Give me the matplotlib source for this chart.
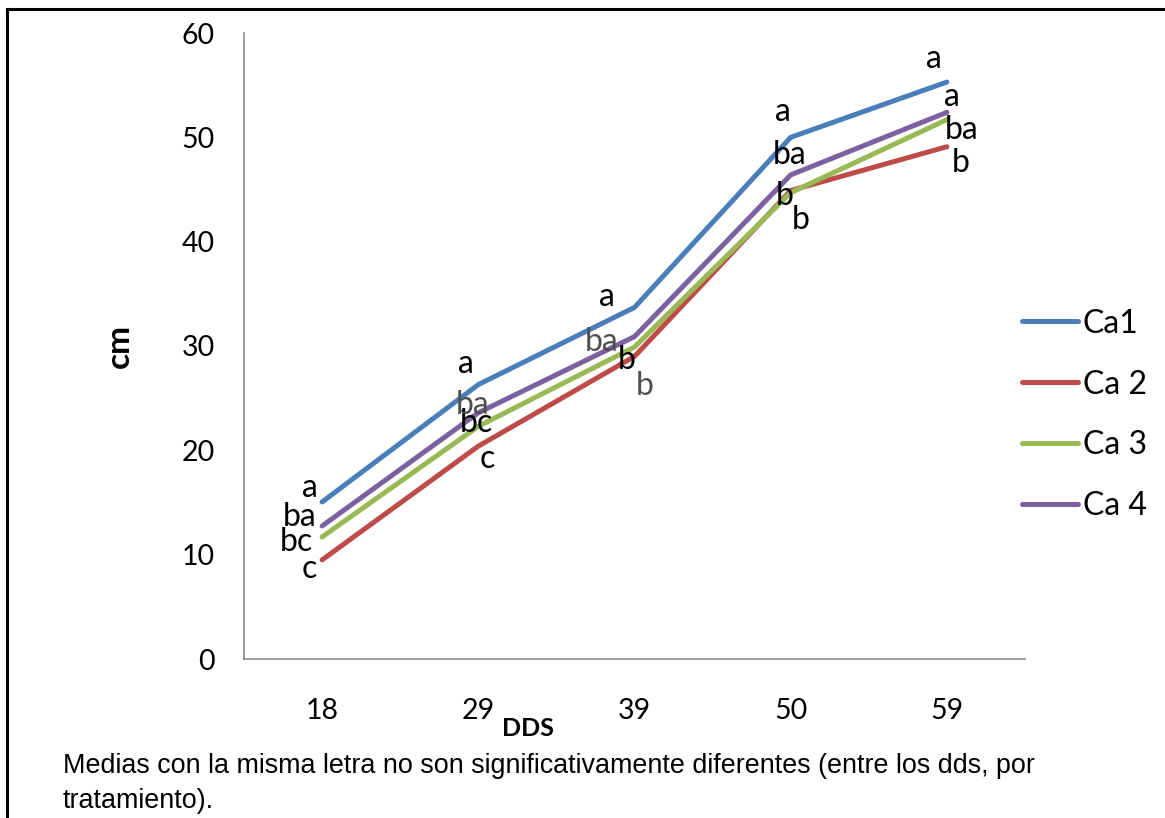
import matplotlib.pyplot as plt
from matplotlib.lines import Line2D

# days after sowing (categories) and mean height per treatment (cm)
dds = ["18", "29", "39", "50", "59"]
ca1 = [15.05, 26.3, 33.7, 50.0, 55.3]
ca2 = [9.5, 20.4, 29.0, 44.9, 49.1]
ca3 = [11.7, 22.3, 29.9, 44.7, 51.7]
ca4 = [12.75, 23.6, 30.9, 46.4, 52.4]
names = ["Ca1", "Ca 2", "Ca 3", "Ca 4"]

# significance letters per point
let1 = ["a", "a", "a", "a", "a"]
let2 = ["c", "c", "b", "b", "b"]
let3 = ["bc", "bc", "b", "b", "ba"]
let4 = ["ba", "ba", "ba", "ba", "a"]

note_1 = "Medias con la misma letra no son significativamente diferentes (entre los dds, por"
note_2 = "tratamiento)."

colors = ["#4A7EBB", "#BE4B48", "#98B954", "#7D60A0"]
# label offsets in pixels (dx, dy) from each point
offs = [
    [(-12, 14), (-12, 21), (-28, 10), (-8, 25), (-13, 23)],
    [(-13, -9), (9, -13), (10, -30), (10, -29), (14, -16)],
    [(-26, -5), (-2, 3), (-8, -13), (-6, -3), (15, -10)],
    [(-22, 9), (-6, 8), (-33, -5), (-1, 20), (5, 15)],
]
grey = {(1, 2), (3, 1), (3, 2)}

plt.rcParams['font.family'] = ['Lato', 'DejaVu Sans']

fig = plt.figure(figsize=(11.65, 8.18), dpi=100)
ax = fig.add_axes([244 / 1165, 1 - 659 / 818, 781 / 1165, 626 / 818])

x = list(range(len(dds)))
series = [ca1, ca2, ca3, ca4]
letters = [let1, let2, let3, let4]
for i, (vals, name) in enumerate(zip(series, names)):
    ax.plot(x, vals, color=colors[i], lw=3.6, solid_capstyle='round', label=name)

for i, (vals, labs) in enumerate(zip(series, letters)):
    for j, (v, lab) in enumerate(zip(vals, labs)):
        c = '#505050' if (i, j) in grey else 'black'
        ax.annotate(lab, (x[j], v), xytext=offs[i][j], textcoords='offset pixels',
                    ha='center', va='center', fontsize=23, color=c)

ax.set_xlim(-0.5, len(dds) - 0.5)
ax.set_ylim(0, 60)
ax.set_yticks(range(0, 61, 10))
ax.set_xticks(x)
ax.set_xticklabels(dds)
ax.tick_params(length=0, labelsize=20.5)
ax.tick_params(axis='y', pad=21)
ax.tick_params(axis='x', pad=28)
for s in ['top', 'right']:
    ax.spines[s].set_visible(False)
for s in ['left', 'bottom']:
    ax.spines[s].set_color('#8c8c8c')
    ax.spines[s].set_linewidth(1.2)

ax.set_xlabel("DDS", fontsize=18, fontweight='bold')
ax.xaxis.set_label_coords(0.364, -0.092)
ax.set_ylabel("cm", fontsize=24, fontweight='bold')
ax.yaxis.set_label_coords(-0.141, 0.5)

ax.legend(loc='center left', bbox_to_anchor=(1022 / 1165, 1 - 415 / 818),
          bbox_transform=fig.transFigure, frameon=False, fontsize=23,
          handlelength=1.75, handletextpad=0.15, labelspacing=0.97,
          borderpad=0, borderaxespad=0)

fig.text(63 / 1165, 1 - 773 / 818, note_1, fontsize=19.4, family='Liberation Sans', va='baseline')
fig.text(63 / 1165, 1 - 808 / 818, note_2, fontsize=19.4, family='Liberation Sans', va='baseline')

# outer frame (top and left edges visible)
fig.add_artist(Line2D([7 / 1165, 7 / 1165], [-0.1, 1 - 9 / 818], transform=fig.transFigure,
                      color='black', lw=2.2))
fig.add_artist(Line2D([7 / 1165, 1.1], [1 - 9 / 818, 1 - 9 / 818], transform=fig.transFigure,
                      color='black', lw=2.2))

fig.savefig("out.png", dpi=100)
